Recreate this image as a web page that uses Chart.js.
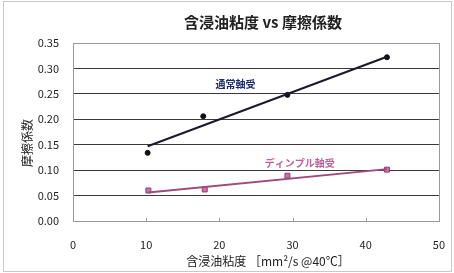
<!DOCTYPE html>
<html>
<head>
<meta charset="utf-8">
<script src="https://cdn.jsdelivr.net/npm/chart.js@4.4.0/dist/chart.umd.min.js"></script>
<style>
  html, body { margin: 0; padding: 0; background: #fff; }
  #wrap { position: relative; width: 454px; height: 273px; }
</style>
</head>
<body>
<div id="wrap"><canvas id="chart" width="454" height="273"></canvas></div>
<script>
// measured points (viscosity mm2/s @40C, friction coefficient)
const normalX = [10.2, 17.8, 29.3, 42.9]
const normalY = [0.134, 0.206, 0.248, 0.322]
const dimpleX = [10.3, 18.0, 29.3, 42.9]
const dimpleY = [0.060, 0.062, 0.089, 0.101]

// trend lines
const normalTrendX = [10.2, 42.9]
const normalTrendY = [0.147, 0.323]
const dimpleTrendX = [10.3, 42.9]
const dimpleTrendY = [0.056, 0.102]

const xTicks = [0, 10, 20, 30, 40, 50]
const yTicks = [0, 0.05, 0.10, 0.15, 0.20, 0.25, 0.30, 0.35]

const titleText = '含浸油粘度 vs 摩擦係数'
const xTitle = '含浸油粘度 ［mm²/s @40℃］'
const yTitle = '摩擦係数'
const labels = [
    { text: '通常軸受', x: 22.2, y: 0.269, color: '#1c2a6a' },
    { text: 'ディンプル軸受', x: 31.0, y: 0.114, color: '#c2609c' },
]

const FONT = '"Noto Sans CJK JP", "Noto Sans", sans-serif'

const toPts = (xs, ys) => xs.map((x, i) => ({ x: x, y: ys[i] }))

const framePlugin = {
    id: 'frame',
    beforeDraw(chart) {
        const ctx = chart.ctx
        ctx.save()
        ctx.strokeStyle = '#c8c8c8'
        ctx.lineWidth = 1
        ctx.strokeRect(3.5, 1.5, 448, 270)
        ctx.restore()
    },
    beforeDatasetsDraw(chart) {
        const ctx = chart.ctx
        const a = chart.chartArea
        ctx.save()
        ctx.strokeStyle = '#9a9a9a'
        ctx.lineWidth = 1
        ctx.strokeRect(Math.round(a.left) + 0.5, Math.round(a.top) + 0.5,
            Math.round(a.right - a.left), Math.round(a.bottom - a.top))
        // small tick marks on x axis
        const xs = chart.scales.x
        xTicks.forEach(v => {
            const px = Math.round(xs.getPixelForValue(v)) + 0.5
            ctx.beginPath()
            ctx.moveTo(px, a.bottom)
            ctx.lineTo(px, a.bottom - 3)
            ctx.stroke()
        })
        ctx.restore()
    },
    afterDraw(chart) {
        const ctx = chart.ctx
        const a = chart.chartArea
        const xs = chart.scales.x
        const ys = chart.scales.y
        ctx.save()
        ctx.textAlign = 'center'
        ctx.textBaseline = 'middle'
        ctx.fillStyle = '#222'
        ctx.font = 'bold 15px ' + FONT
        ctx.fillText(titleText, 263, 22)

        // axis titles
        ctx.font = '12px ' + FONT
        ctx.fillText(xTitle, 268, 261)
        ctx.save()
        ctx.translate(27, 143)
        ctx.rotate(-Math.PI / 2)
        ctx.fillText(yTitle, 0, 0)
        ctx.restore()

        ctx.font = 'bold 10px ' + FONT
        labels.forEach(l => {
            ctx.fillStyle = l.color
            ctx.fillText(l.text, xs.getPixelForValue(l.x), ys.getPixelForValue(l.y))
        })
        ctx.restore()
    }
}

new Chart(document.getElementById('chart'), {
    type: 'scatter',
    data: {
        datasets: [
            {
                label: 'normal trend',
                data: toPts(normalTrendX, normalTrendY),
                showLine: true,
                borderColor: '#1a1a2a',
                borderWidth: 2,
                pointRadius: 0,
            },
            {
                label: 'dimple trend',
                data: toPts(dimpleTrendX, dimpleTrendY),
                showLine: true,
                borderColor: '#9e4a7a',
                borderWidth: 2,
                pointRadius: 0,
            },
            {
                label: '通常軸受',
                data: toPts(normalX, normalY),
                pointStyle: 'circle',
                pointRadius: 2.5,
                backgroundColor: '#111',
                borderColor: '#111',
                borderWidth: 1,
            },
            {
                label: 'ディンプル軸受',
                data: toPts(dimpleX, dimpleY),
                pointStyle: 'rect',
                pointRadius: 3.5,
                backgroundColor: '#d070a8',
                borderColor: '#8e3c6c',
                borderWidth: 1,
            },
        ]
    },
    options: {
        responsive: false,
        animation: false,
        layout: { padding: { top: 43, right: 12, bottom: 0, left: 0 } },
        plugins: {
            legend: { display: false },
            tooltip: { enabled: false },
        },
        scales: {
            x: {
                type: 'linear',
                min: 0, max: 50,
                afterBuildTicks: s => { s.ticks = xTicks.map(v => ({ value: v })) },
                ticks: { color: '#222', font: { family: FONT, size: 11 }, padding: 9, maxRotation: 0 },
                grid: { display: false },
                border: { display: false },
                afterFit: s => { s.height = 52 },
            },
            y: {
                type: 'linear',
                min: 0, max: 0.35,
                afterBuildTicks: s => { s.ticks = yTicks.map(v => ({ value: v })) },
                ticks: {
                    color: '#222', font: { family: FONT, size: 11 }, padding: 14,
                    callback: v => v.toFixed(2),
                },
                grid: {
                    drawTicks: false,
                    color: c => (c.tick.value <= 0.001 || c.tick.value >= 0.349) ? 'rgba(0,0,0,0)' : '#3a3a3a',
                    lineWidth: 1,
                },
                border: { display: false },
                afterFit: s => { s.width = 73 },
            },
        },
    },
    plugins: [framePlugin],
})
</script>
</body>
</html>
